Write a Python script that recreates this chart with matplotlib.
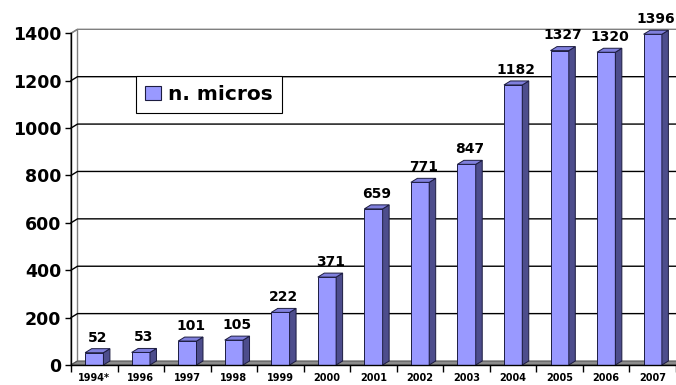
import matplotlib
matplotlib.use("Agg")
import matplotlib.pyplot as plt
from matplotlib.patches import Polygon, Patch
import numpy as np

years = ['1994*', '1996', '1997', '1998', '1999', '2000', '2001',
         '2002', '2003', '2004', '2005', '2006', '2007']
micros = [52, 53, 101, 105, 222, 371, 659, 771, 847, 1182, 1327, 1320, 1396]
yticks = [0, 200, 400, 600, 800, 1000, 1200, 1400]

front_col = '#9999ff'
side_col = '#4d4d8c'
top_col = '#8080dd'
edge_col = '#1c1c40'

W, H = 676, 385
fig = plt.figure(figsize=(W / 100, H / 100), dpi=100)
ax = fig.add_axes([71 / W, 20 / H, 605 / W, 331.7 / H])

n = len(years)
x = np.arange(n)
ax.set_xlim(-0.5, n - 0.5)
ax.set_ylim(0, 1400)

# depth of the fake 3d box, in data units
px_x = 605 / n
px_y = 331.7 / 1400
dx = 6.5 / px_x
dy = 4.0 / px_y
bw = 18.3 / px_x

x0, x1 = -0.5, n - 0.5

# side wall and gridlines on the back wall
wall = Polygon([(x0, 0), (x0 + dx, dy), (x0 + dx, 1400 + dy), (x0, 1400)],
               closed=True, facecolor='white', edgecolor='#808080', lw=1,
               zorder=1, clip_on=False)
ax.add_patch(wall)
for v in yticks[1:]:
    c = '#808080' if v == 1400 else '#000000'
    ax.plot([x0, x0 + dx, x1 + dx], [v, v + dy, v + dy], color=c, lw=1,
            zorder=1, clip_on=False)

# floor
floor = Polygon([(x0, 0), (x1, 0), (x1 + dx, dy), (x0 + dx, dy)], closed=True,
                facecolor='#8c8c8c', edgecolor='#555555', lw=0.8, zorder=2,
                clip_on=False)
ax.add_patch(floor)

# bars
for xi, v in zip(x, micros):
    l, r = xi - bw / 2, xi + bw / 2
    front = Polygon([(l, 0), (r, 0), (r, v), (l, v)], closed=True,
                    facecolor=front_col, edgecolor=edge_col, lw=0.7, zorder=4)
    side = Polygon([(r, 0), (r + dx, dy), (r + dx, v + dy), (r, v)], closed=True,
                   facecolor=side_col, edgecolor=edge_col, lw=0.7, zorder=4)
    top = Polygon([(l, v), (r, v), (r + dx, v + dy), (l + dx, v + dy)], closed=True,
                  facecolor=top_col, edgecolor=edge_col, lw=0.7, zorder=4)
    for p in (front, side, top):
        p.set_clip_on(False)
        ax.add_patch(p)
    ax.annotate(str(v), (xi + dx * 0.5, v + dy), xytext=(0, 3),
                textcoords='offset points', ha='center', va='bottom',
                fontsize=10, fontweight='bold', zorder=6, annotation_clip=False)

# axes lines
for s in ('top', 'right'):
    ax.spines[s].set_visible(False)
ax.spines['left'].set_linewidth(1)
ax.spines['bottom'].set_linewidth(1)
ax.spines['left'].set_zorder(5)
ax.spines['bottom'].set_zorder(5)

ax.set_yticks(yticks)
ax.set_yticklabels([str(v) for v in yticks], fontsize=12.5, fontweight='bold')
ax.tick_params(axis='y', direction='out', length=4, width=1, pad=3)

ax.set_xticks(np.arange(n + 1) - 0.5)
ax.set_xticklabels([])
ax.tick_params(axis='x', which='major', direction='out', length=5, width=1)
ax.set_xticks(x, minor=True)
ax.set_xticklabels(years, minor=True, fontsize=7, fontweight='bold')
ax.tick_params(axis='x', which='minor', length=0, pad=6)

handle = Patch(facecolor=front_col, edgecolor=edge_col, lw=0.8)
leg = fig.legend([handle], ['n. micros'], loc='upper left',
                 bbox_to_anchor=(135.7 / W, 1 - 76 / H),
                 prop={'size': 14.5, 'weight': 'bold'},
                 handlelength=0.8, handleheight=0.75, handletextpad=0.35,
                 borderpad=0.45, borderaxespad=0, fancybox=False,
                 edgecolor='black', framealpha=1)
leg.get_frame().set_linewidth(0.8)

fig.savefig('out.png', dpi=100)
